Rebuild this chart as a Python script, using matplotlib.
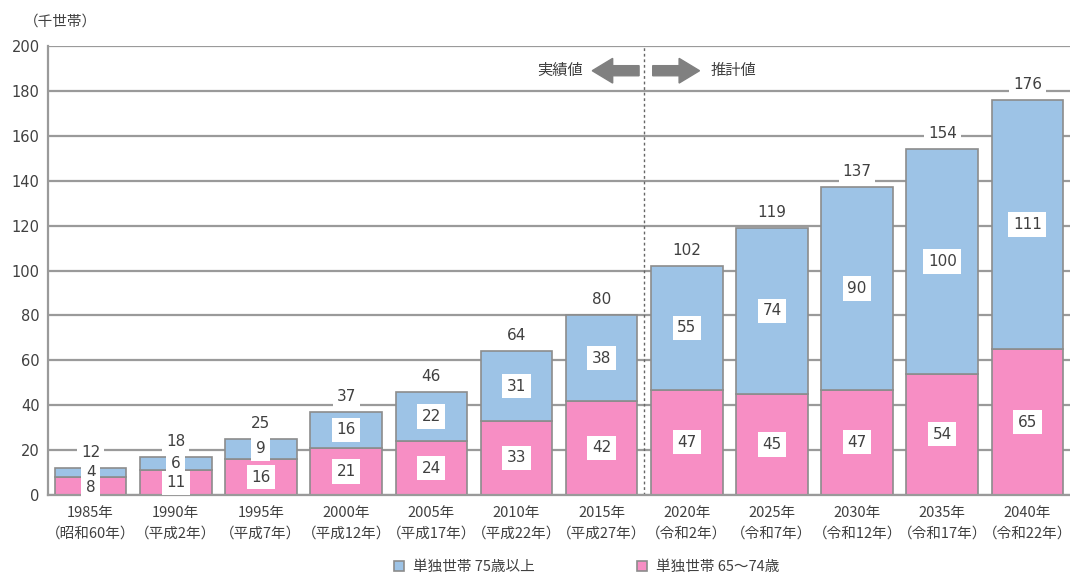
import matplotlib
matplotlib.use("Agg")
import matplotlib.pyplot as plt
import matplotlib.patches as mpatches
import numpy as np

plt.rcParams['font.family'] = ['Noto Sans CJK JP', 'DejaVu Sans']

# data (thousand households)
years = ["1985年\n（昭和60年）", "1990年\n（平成2年）", "1995年\n（平成7年）",
         "2000年\n（平成12年）", "2005年\n（平成17年）", "2010年\n（平成22年）",
         "2015年\n（平成27年）", "2020年\n（令和2年）", "2025年\n（令和7年）",
         "2030年\n（令和12年）", "2035年\n（令和17年）", "2040年\n（令和22年）"]
age_65_74 = [8, 11, 16, 21, 24, 33, 42, 47, 45, 47, 54, 65]
age_75_up = [4, 6, 9, 16, 22, 31, 38, 55, 74, 90, 100, 111]
totals = [12, 18, 25, 37, 46, 64, 80, 102, 119, 137, 154, 176]
yticks = [0, 20, 40, 60, 80, 100, 120, 140, 160, 180, 200]

PINK = "#F78EC4"
BLUE = "#9DC3E6"
EDGE = "#8c8c8c"
GRID = "#9a9a9a"
TXT = "#404040"
NUM_FONT = ["DejaVu Sans"]


def main():
    fig = plt.figure(figsize=(10.7, 5.76), dpi=100)
    ax = fig.add_axes([0.0449, 0.1406, 0.9551, 0.7795])

    x = np.arange(len(years))
    w = 0.84
    ax.bar(x, age_65_74, w, color=PINK, edgecolor=EDGE, linewidth=1.2,
           zorder=3, label="単独世帯 65〜74歳")
    ax.bar(x, age_75_up, w, bottom=age_65_74, color=BLUE, edgecolor=EDGE,
           linewidth=1.2, zorder=3, label="単独世帯 75歳以上")

    box = dict(boxstyle="square,pad=0.3", fc="white", ec="none")
    for i in range(len(years)):
        # keep the two inner labels apart on the short bars
        y_low = min(age_65_74[i] / 2, age_65_74[i] - 4.8)
        ax.text(x[i], y_low, str(age_65_74[i]), ha="center",
                va="center", fontsize=11, color=TXT, bbox=box, zorder=6,
                family=NUM_FONT)
        ax.text(x[i], age_65_74[i] + age_75_up[i] / 2, str(age_75_up[i]),
                ha="center", va="center", fontsize=11, color=TXT, bbox=box,
                zorder=5, family=NUM_FONT)
        ax.text(x[i], age_65_74[i] + age_75_up[i] + 7, str(totals[i]),
                ha="center", va="center", fontsize=11, color=TXT,
                bbox=dict(boxstyle="square,pad=0.25", fc="white", ec="none"),
                zorder=4, family=NUM_FONT)

    ax.set_xlim(-0.5, len(years) - 0.5)
    ax.set_ylim(0, 200)
    ax.set_yticks(yticks)
    ax.set_yticklabels([str(v) for v in yticks], fontsize=10.5, color=TXT,
                       family=NUM_FONT)
    ax.set_xticks(x)
    ax.set_xticklabels(years, fontsize=10.5, color=TXT, linespacing=1.55)
    ax.tick_params(length=0, pad=6)
    ax.tick_params(axis="x", pad=8)
    ax.yaxis.grid(True, color=GRID, linewidth=1.6, zorder=0)
    ax.set_axisbelow(True)
    for s in ["top", "right"]:
        ax.spines[s].set_visible(False)
    for s in ["left", "bottom"]:
        ax.spines[s].set_color(GRID)
        ax.spines[s].set_linewidth(1.6)
        ax.spines[s].set_zorder(4)

    # boundary between actual and estimated values
    ax.axvline(6.5, color="#666666", linewidth=1, linestyle=(0, (2, 2)),
               zorder=4)
    ax.add_patch(mpatches.FancyArrow(6.44, 189, -0.55, 0, width=4.5,
                                     head_width=11, head_length=0.24,
                                     length_includes_head=True,
                                     color="#808080", zorder=5))
    ax.add_patch(mpatches.FancyArrow(6.6, 189, 0.55, 0, width=4.5,
                                     head_width=11, head_length=0.24,
                                     length_includes_head=True,
                                     color="#808080", zorder=5))
    ax.text(5.78, 189, "実績値", ha="right", va="center", fontsize=11,
            color=TXT)
    ax.text(7.28, 189, "推計値", ha="left", va="center", fontsize=11,
            color=TXT)

    fig.text(0.022, 0.962, "（千世帯）", ha="left", va="center",
             fontsize=10.5, color=TXT)

    handles, labels = ax.get_legend_handles_labels()
    leg = fig.legend(handles[::-1], labels[::-1], loc="center",
                     bbox_to_anchor=(0.548, 0.016), ncol=2, frameon=False,
                     fontsize=10.5, handlelength=0.7, handleheight=0.7,
                     handletextpad=0.6, columnspacing=7)
    for t in leg.get_texts():
        t.set_color(TXT)

    fig.savefig("out.png", dpi=100)


if __name__ == "__main__":
    main()
